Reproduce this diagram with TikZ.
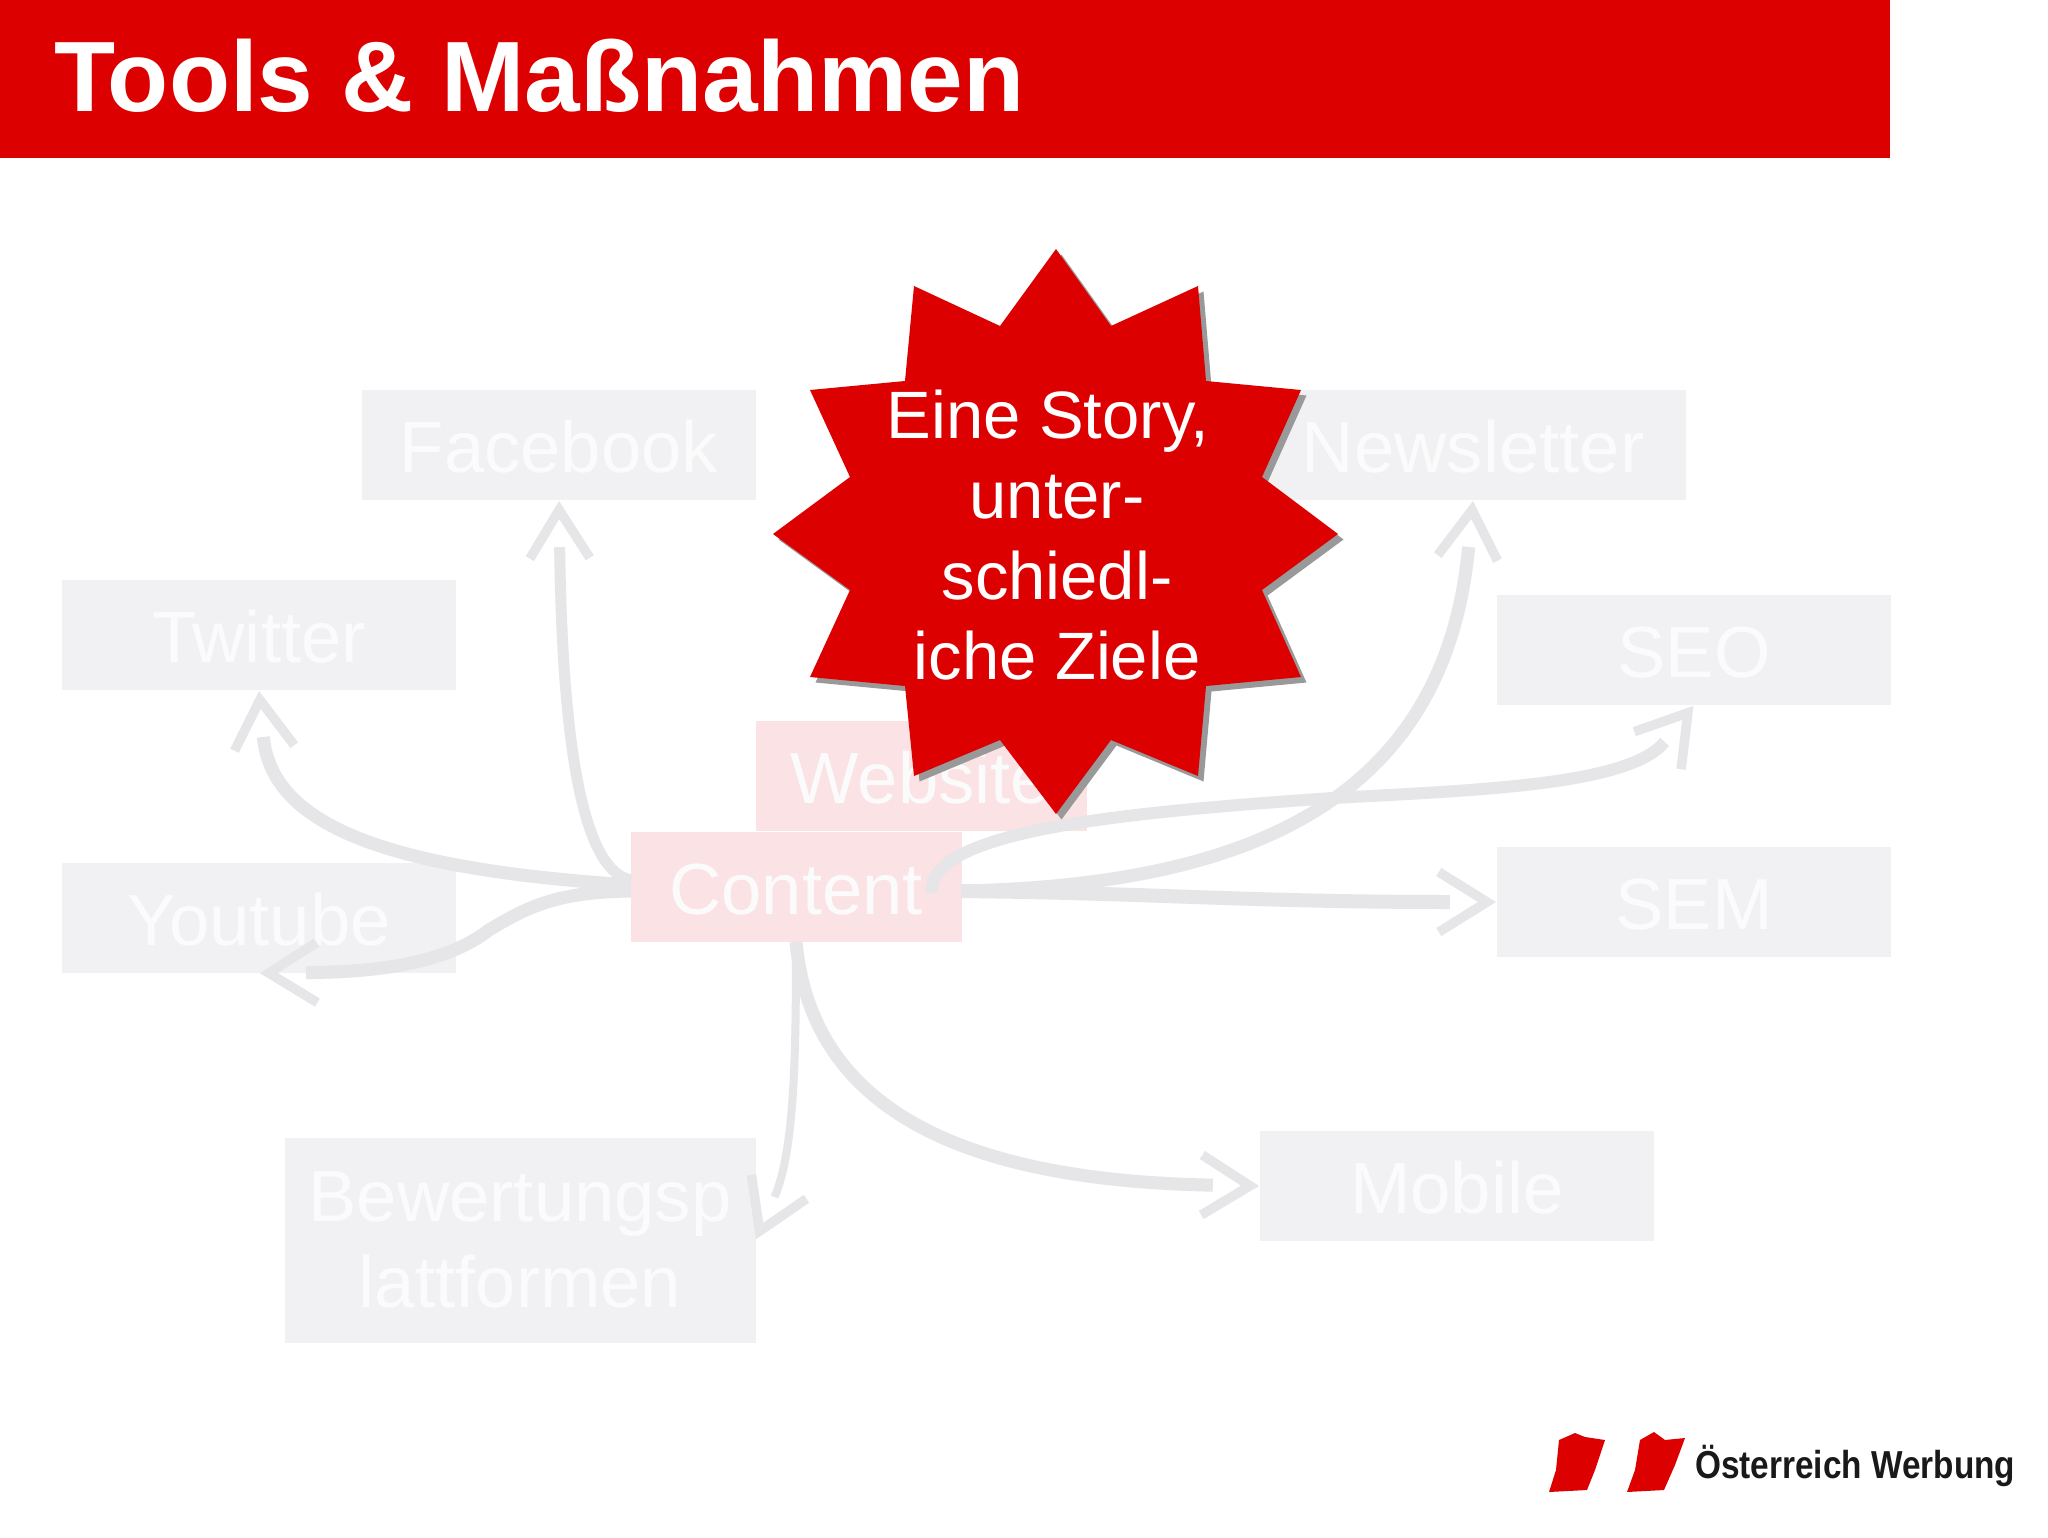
\documentclass[tikz,border=0pt]{standalone}
\usepackage{fontspec}
\setmainfont{Liberation Sans}
\newfontfamily\logofont[FakeStretch=0.855]{Liberation Sans}
\usetikzlibrary{arrows.meta}
\definecolor{barred}{HTML}{DD0000}
\definecolor{boxgrey}{HTML}{F1F0F3}
\definecolor{boxpink}{HTML}{FAE2E5}
\definecolor{boxtext}{HTML}{FCFBFC}
\definecolor{linegrey}{HTML}{E6E5E8}
\pgfdeclarearrow{
  name=OpenHead,
  parameters={},
  setup code={
    \pgfarrowssettipend{0pt}
    \pgfarrowssetlineend{-47pt}
    \pgfarrowssetbackend{-58pt}
    \pgfarrowssetvisualtipend{0pt}
    \pgfarrowssetvisualbackend{-58pt}
  },
  drawing code={
    \pgfsetlinewidth{9.5pt}
    \pgfsetdash{}{0pt}
    \pgfsetbuttcap
    \pgfsetmiterjoin
    \pgfpathmoveto{\pgfpoint{-58pt}{30pt}}
    \pgfpathlineto{\pgfpoint{-9.8pt}{0pt}}
    \pgfpathlineto{\pgfpoint{-58pt}{-30pt}}
    \pgfusepathqstroke
  }
}
\tikzset{
  x=1pt,y=-1pt,
  basebox/.style={fill=boxgrey,draw=none,inner sep=0pt,minimum width=394pt,minimum height=110pt,text=boxtext,
    font=\fontsize{72.5}{86}\selectfont},
  greybox/.style={basebox,text height=55pt,text depth=0pt},
  pinkbox/.style={greybox,fill=boxpink,minimum width=331pt},
  flow/.style={draw=linegrey,line width=#1,line cap=butt,-OpenHead},
  flow/.default=11pt,
  flag/.style={fill=barred,draw=none}
}
\begin{document}
\begin{tikzpicture}
\useasboundingbox (0,0) rectangle (2048,1537);
\fill[white] (0,0) rectangle (2048,1537);
\fill[barred] (0,0) rectangle (1890,158);
\node[anchor=base west,inner sep=0pt,text=white,font=\bfseries\fontsize{100}{120}\selectfont] (title) at (54,111) {Tools \& Maßnahmen};

\node[greybox] (facebook) at (559,445) {Facebook};
\node[greybox,minimum width=426pt] (newsletter) at (1473,445) {Newsletter};
\node[greybox] (twitter) at (259,635) {Twitter};
\node[greybox] (seo) at (1694,650) {SEO};
\node[pinkbox] (website) at (921,776) {Website};
\node[pinkbox] (content) at (796,887) {Content};
\node[greybox] (sem) at (1694,902) {SEM};
\node[greybox] (youtube) at (259,918) {Youtube};
\node[basebox,minimum width=471pt,minimum height=205pt,align=center] (bewertung) at (520,1240) {Bewertungsp\\lattformen};
\node[greybox] (mobile) at (1457,1186) {Mobile};

\coordinate (cla) at (631,880);
\coordinate (clb) at (631,885);
\coordinate (clc) at (631,891);
\coordinate (cr) at (961,891);
\coordinate (cs) at (796,942);
\coordinate (ci) at (932,893);
\coordinate (ym) at (489,930);
\coordinate (sm) at (1333,798);

\draw[flow=11pt] (cla) .. controls (578,870) and (562,720) .. (facebook.south);
\draw[flow=13pt] (clb) .. controls (400,870) and (272,830) .. (twitter.south);
\draw[flow=13pt] (clc) .. controls (560,892) and (530,905) .. (ym) .. controls (440,968) and (360,972) .. (youtube.south);
\draw[flow=8pt] (cs) .. controls (796,1050) and (795,1150) .. (bewertung.east);
\draw[flow=13pt] (cs) .. controls (810,1090) and (930,1180) .. (mobile.west);
\draw[flow=14pt] (cr) .. controls (1150,893) and (1250,902) .. (sem.west);
\draw[flow=12pt] (ci) .. controls (925,830) and (1130,812) .. (sm) .. controls (1480,790) and (1630,785) .. (seo.south);
\draw[flow=13pt] (cr) .. controls (1250,885) and (1445,800) .. (newsletter.south);

\path[fill=black!40,shift={(5.5,5.5)}] (1056,249)--(1111,326)--(1198,286)--(1206,381)--(1301,390)--(1262,477)--(1338,534)--(1262,590)--(1301,677)--(1206,686)--(1198,776)--(1111,740)--(1056,814)--(1000,740)--(914,776)--(905,686)--(810,677)--(850,590)--(773,534)--(850,477)--(810,390)--(905,381)--(914,286)--(1000,326)--cycle;
\path[fill=barred] (1056,249)--(1111,326)--(1198,286)--(1206,381)--(1301,390)--(1262,477)--(1338,534)--(1262,590)--(1301,677)--(1206,686)--(1198,776)--(1111,740)--(1056,814)--(1000,740)--(914,776)--(905,686)--(810,677)--(850,590)--(773,534)--(850,477)--(810,390)--(905,381)--(914,286)--(1000,326)--cycle;
\node[align=center,inner sep=0pt,text=white,font=\fontsize{67}{80.5}\selectfont] (story) at (1057,535) {Eine Story,\hspace*{18pt}\\unter-\\schiedl-\\iche Ziele};

\path[flag] (1559,1440)--(1575,1433)--(1585,1437)--(1605,1440)--(1595,1470)--(1587,1490)--(1549,1492)--(1556,1470)--cycle;
\path[flag] (1640,1440)--(1654,1432)--(1665,1440)--(1685,1438)--(1675,1465)--(1664,1490)--(1627,1492)--(1635,1470)--cycle;
\node[anchor=base west,inner sep=0pt,text=black!90,font=\logofont\bfseries\fontsize{39}{44}\selectfont] (logo) at (1695,1478) {Österreich Werbung};
\end{tikzpicture}
\end{document}
